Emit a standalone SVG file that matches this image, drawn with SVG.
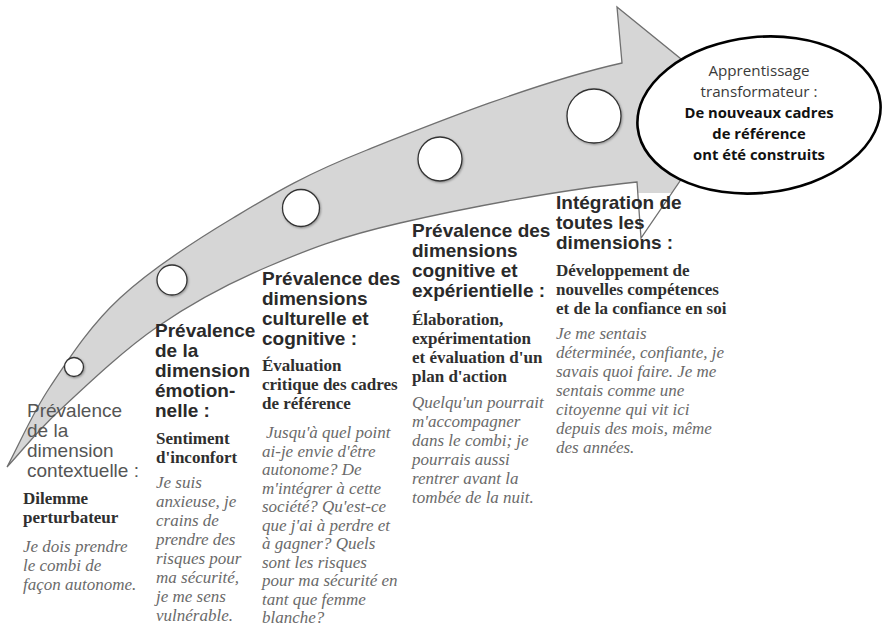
<svg xmlns="http://www.w3.org/2000/svg" width="884" height="627" viewBox="0 0 884 627">
<style>
.h1{font-family:"Liberation Sans",Arial,sans-serif;font-size:19px;fill:#555}
.h{font-family:"Liberation Sans",Arial,sans-serif;font-size:19px;font-weight:bold;fill:#2a2a2a}
.b{font-family:"Liberation Serif","Times New Roman",serif;font-size:17px;font-weight:bold;fill:#2f2f2f}
.i{font-family:"Liberation Serif","Times New Roman",serif;font-size:17px;font-style:italic;fill:#6a6a6a}
.er{font-family:"Open Sans",sans-serif;font-size:15.2px;fill:#3a3a3a}
.eb{font-family:"Open Sans",sans-serif;font-size:14.8px;font-weight:bold;fill:#111}
.dot{fill:#fff;stroke:#333;stroke-width:1.3;filter:url(#sh)}
.band{fill:#d6d6d6;stroke:none}
.edge{fill:none;stroke:#707070;stroke-width:1.3;stroke-linejoin:miter}
</style>
<defs>
<filter id="sh" x="-30%" y="-30%" width="160%" height="160%">
<feDropShadow dx="0.8" dy="1" stdDeviation="1" flood-color="#000" flood-opacity="0.35"/>
</filter>
<path id="arrowShape" d="M7,467 C21.3,440.3 31.2,415.2 50,387 C68.8,358.8 89.5,326.2 120,298 C150.5,269.8 191.8,242.7 233,218 C274.2,193.3 302.2,175.8 367,150 C431.8,124.2 537,82 622,63 L617,7 L734,102 L641,238 L637,182 C558,189.9 461.7,208.8 400,223 C338.3,237.2 307.5,249.7 267,267 C226.5,284.3 191.5,303.2 157,327 C122.5,350.8 85,386.7 60,410 C35,433.3 24.7,448 7,467 Z"/>
</defs>
<rect width="884" height="627" fill="#fff"/>
<g id="arrow">
<use href="#arrowShape" class="band"/>
<rect x="550" y="193" width="140" height="70" fill="#fff"/>
<use href="#arrowShape" class="edge"/>
</g>
<g id="steps">
<circle class="dot" cx="74" cy="367" r="9.5"/>
<circle class="dot" cx="172" cy="280" r="15"/>
<circle class="dot" cx="301" cy="208" r="18.5"/>
<circle class="dot" cx="440" cy="159" r="22"/>
<circle class="dot" cx="594" cy="116" r="27"/>
</g>
<g id="goal">
<ellipse cx="759" cy="115" rx="122" ry="78" transform="rotate(-6 759 115)" fill="#fff" stroke="#000" stroke-width="2.6"/>
<g text-anchor="middle">
<text class="er" x="759" y="76">Apprentissage</text>
<text class="er" x="759" y="97">transformateur :</text>
<text class="eb" x="759" y="118">De nouveaux cadres</text>
<text class="eb" x="759" y="139">de référence</text>
<text class="eb" x="759" y="160">ont été construits</text>
</g>
</g>
<g id="col1">
<text class="h1" x="27" y="417">Prévalence</text>
<text class="h1" x="27" y="437">de la</text>
<text class="h1" x="27" y="457">dimension</text>
<text class="h1" x="27" y="477">contextuelle :</text>
<text class="b" x="23" y="504">Dilemme</text>
<text class="b" x="23" y="523">perturbateur</text>
<text class="i" x="23" y="552">Je dois prendre</text>
<text class="i" x="23" y="571">le combi de</text>
<text class="i" x="23" y="590">façon autonome.</text>
</g>
<g id="col2">
<text class="h" x="155" y="337">Prévalence</text>
<text class="h" x="155" y="357">de la</text>
<text class="h" x="155" y="377">dimension</text>
<text class="h" x="155" y="397">émotion-</text>
<text class="h" x="155" y="417">nelle :</text>
<text class="b" x="156" y="444">Sentiment</text>
<text class="b" x="156" y="463">d'inconfort</text>
<text class="i" x="156" y="488">Je suis</text>
<text class="i" x="156" y="507">anxieuse, je</text>
<text class="i" x="156" y="526">crains de</text>
<text class="i" x="156" y="545">prendre des</text>
<text class="i" x="156" y="564">risques pour</text>
<text class="i" x="156" y="583">ma sécurité,</text>
<text class="i" x="156" y="602">je me sens</text>
<text class="i" x="156" y="621">vulnérable.</text>
</g>
<g id="col3">
<text class="h" x="262" y="285">Prévalence des</text>
<text class="h" x="262" y="305">dimensions</text>
<text class="h" x="262" y="325">culturelle et</text>
<text class="h" x="262" y="345">cognitive :</text>
<text class="b" x="262" y="371">Évaluation</text>
<text class="b" x="262" y="390">critique des cadres</text>
<text class="b" x="262" y="409">de référence</text>
<text class="i" x="266" y="438">Jusqu'à quel point</text>
<text class="i" x="262" y="456.5">ai-je envie d'être</text>
<text class="i" x="262" y="475">autonome? De</text>
<text class="i" x="262" y="493.5">m'intégrer à cette</text>
<text class="i" x="262" y="512">société? Qu'est-ce</text>
<text class="i" x="262" y="530.5">que j'ai à perdre et</text>
<text class="i" x="262" y="549">à gagner? Quels</text>
<text class="i" x="262" y="567.5">sont les risques</text>
<text class="i" x="262" y="586">pour ma sécurité en</text>
<text class="i" x="262" y="604.5">tant que femme</text>
<text class="i" x="262" y="623">blanche?</text>
</g>
<g id="col4">
<text class="h" x="412" y="237">Prévalence des</text>
<text class="h" x="412" y="257">dimensions</text>
<text class="h" x="412" y="277">cognitive et</text>
<text class="h" x="412" y="297">expérientielle :</text>
<text class="b" x="412" y="325">Élaboration,</text>
<text class="b" x="412" y="344">expérimentation</text>
<text class="b" x="412" y="363">et évaluation d'un</text>
<text class="b" x="412" y="382">plan d'action</text>
<text class="i" x="412" y="408">Quelqu'un pourrait</text>
<text class="i" x="412" y="427">m'accompagner</text>
<text class="i" x="412" y="446">dans le combi; je</text>
<text class="i" x="412" y="465">pourrais aussi</text>
<text class="i" x="412" y="484">rentrer avant la</text>
<text class="i" x="412" y="503">tombée de la nuit.</text>
</g>
<g id="col5">
<text class="h" x="556" y="209">Intégration de</text>
<text class="h" x="556" y="229">toutes les</text>
<text class="h" x="556" y="249">dimensions :</text>
<text class="b" x="556" y="276">Développement de</text>
<text class="b" x="556" y="295">nouvelles compétences</text>
<text class="b" x="556" y="314">et de la confiance en soi</text>
<text class="i" x="556" y="339">Je me sentais</text>
<text class="i" x="556" y="358">déterminée, confiante, je</text>
<text class="i" x="556" y="377">savais quoi faire. Je me</text>
<text class="i" x="556" y="396">sentais comme une</text>
<text class="i" x="556" y="415">citoyenne qui vit ici</text>
<text class="i" x="556" y="434">depuis des mois, même</text>
<text class="i" x="556" y="453">des années.</text>
</g>
</svg>
